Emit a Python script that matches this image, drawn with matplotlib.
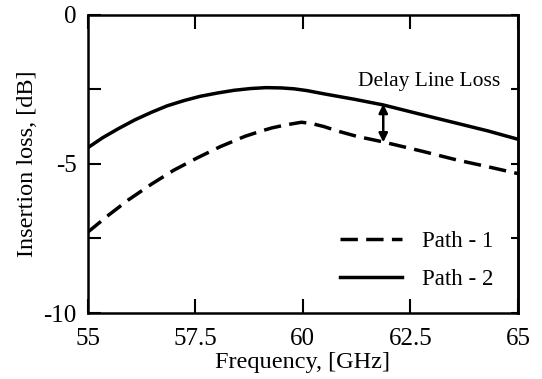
import matplotlib
matplotlib.use('Agg')
import matplotlib.pyplot as plt

plt.rcParams['font.family'] = ['Liberation Serif', 'DejaVu Serif']

# Path - 1 (dashed)
freq_p1 = [55.0, 55.49, 55.95, 56.5, 57.0, 57.54, 58.08, 58.66, 59.0, 59.28, 59.6,
           59.97, 60.2, 60.48, 60.85, 61.25, 61.87, 62.8, 63.57, 64.3, 65.0]
loss_p1 = [-7.3, -6.72, -6.21, -5.67, -5.22, -4.81, -4.43, -4.08, -3.92, -3.8, -3.7,
           -3.61, -3.65, -3.75, -3.92, -4.08, -4.27, -4.59, -4.87, -5.1, -5.33]

# Path - 2 (solid)
freq_p2 = [55.0, 55.35, 55.71, 56.1, 56.48, 56.85, 57.25, 57.62, 58.02, 58.4, 58.79,
           59.15, 59.5, 59.8, 60.1, 60.5, 61.2, 61.87, 62.7, 63.57, 64.3, 65.0]
loss_p2 = [-4.47, -4.13, -3.83, -3.53, -3.28, -3.06, -2.88, -2.74, -2.63, -2.54, -2.48,
           -2.45, -2.46, -2.49, -2.55, -2.66, -2.84, -3.03, -3.33, -3.64, -3.9, -4.18]

fig = plt.figure(figsize=(5.42, 3.79), dpi=100)
ax = fig.add_axes([87.5 / 542, 1 - 313 / 379, 430.5 / 542, 298.5 / 379])

ax.plot(freq_p1, loss_p1, color='black', lw=2.5, ls=(0, (5.0, 2.4)), label='Path - 1')
ax.plot(freq_p2, loss_p2, color='black', lw=2.5, label='Path - 2')

# arrow for delay line loss
ax.annotate('', xy=(61.87, -3.0), xytext=(61.87, -4.28),
            arrowprops=dict(arrowstyle='<|-|>', color='black', lw=1.8,
                            mutation_scale=13, shrinkA=0, shrinkB=0))
ax.text(62.93, -2.25, 'Delay Line Loss', ha='center', va='center', fontsize=15.5)

ax.set_xlim(55, 65)
ax.set_ylim(-10, 0)
ax.set_xticks([55, 57.5, 60, 62.5, 65])
ax.set_xticklabels(['55', '57.5', '60', '62.5', '65'])
ax.set_yticks([-10, -7.5, -5, -2.5, 0])
ax.set_yticklabels(['-10', '', '-5', '', '0'])

ax.tick_params(axis='x', direction='in', top=True, length=10, width=1.5,
               labelsize=18, pad=11)
ax.tick_params(axis='y', direction='in', right=False, length=9, width=1.5,
               labelsize=18, pad=8)
# shorter ticks on the right side
ax_r = ax.secondary_yaxis('right')
ax_r.set_yticks([-10, -7.5, -5, -2.5, 0])
ax_r.set_yticklabels([])
ax_r.tick_params(direction='in', length=5, width=1.5)
ax_r.spines['right'].set_linewidth(1.8)

for s in ax.spines.values():
    s.set_linewidth(1.8)

ax.set_xlabel('Frequency, [GHz]', fontsize=17.5, labelpad=1)
ax.set_ylabel('Insertion loss, [dB]', fontsize=17.5, labelpad=4)

leg = ax.legend(loc='lower right', frameon=False, fontsize=16.5,
                handlelength=2.7, handletextpad=0.9, labelspacing=0.75,
                bbox_to_anchor=(0.965, 0.045), borderaxespad=0)

fig.savefig('out.png', dpi=100, facecolor='white')
